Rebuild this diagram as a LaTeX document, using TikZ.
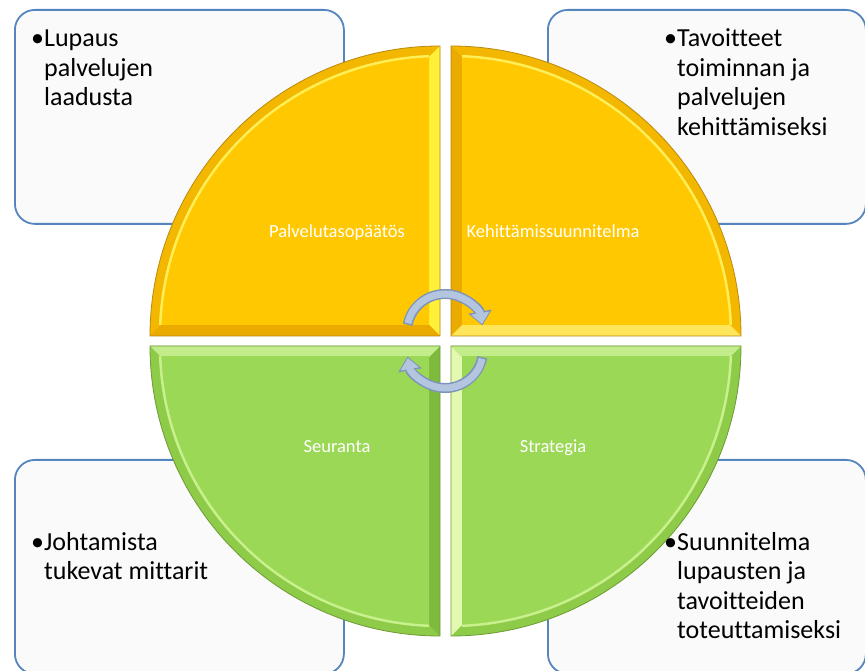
\documentclass[tikz,border=0pt]{standalone}
\usepackage{fontspec}
\setmainfont{Carlito}[Ligatures=NoCommon]
\usetikzlibrary{arrows.meta}

\definecolor{yelBase}{HTML}{FFC800}
\definecolor{yelRim}{HTML}{F3B700}
\definecolor{yelLight}{HTML}{FFF03A}
\definecolor{yelMid}{HTML}{FFE55A}
\definecolor{yelDark}{HTML}{EBAA00}
\definecolor{yelShine}{HTML}{FFEE55}
\definecolor{yelEdge}{HTML}{B98A10}
\definecolor{grnBase}{HTML}{9BD856}
\definecolor{grnRim}{HTML}{8DCB48}
\definecolor{grnLight}{HTML}{E4F9B0}
\definecolor{grnMid}{HTML}{C3EC8A}
\definecolor{grnDark}{HTML}{7FB93E}
\definecolor{grnShine}{HTML}{C8F08C}
\definecolor{grnEdge}{HTML}{6E9B36}
\definecolor{boxLine}{HTML}{5585BF}
\definecolor{arrFill}{HTML}{B3C5DF}
\definecolor{arrLine}{HTML}{7D95BA}

\newcommand{\bulletlines}[1]{\begin{tabular}[t]{@{}l@{}l@{}}\makebox[13pt][l]{\textbullet}#1\end{tabular}}

\begin{document}
\begin{tikzpicture}[x=1pt,y=1pt,
    infobox/.style={draw=boxLine,line width=1.8pt,fill=white!98!black,rounded corners=20pt,
                    anchor=north west,minimum height=214pt,inner sep=0pt},
    bullettext/.style={font=\fontsize{26}{29.5}\selectfont,anchor=base west,inner sep=0pt},
    quadlabel/.style={font=\fontsize{18.5}{22}\selectfont,text=white,anchor=base,inner sep=0pt},
    turnline/.style={line width=10pt,arrLine,-{Triangle[length=14pt,width=23pt]}},
    turnfill/.style={line width=7pt,arrFill,shorten >=1.5pt,shorten <=1.5pt,
                     -{Triangle[length=11pt,width=18pt]}}]
    \useasboundingbox (0,0) rectangle (865,670);
    \clip (0,0) rectangle (865,670);
    \fill[white] (0,0) rectangle (865,670);

    \node[infobox,minimum width=329pt] (lupausBox) at (14,661) {};
    \node[infobox,minimum width=318pt] (tavoiteBox) at (547,661) {};
    \node[infobox,minimum width=329pt] (mittariBox) at (14,211) {};
    \node[infobox,minimum width=318pt] (suunnitelmaBox) at (547,211) {};

    \begin{scope}[shift={(440,334)},xscale=-1]
        \fill[yelRim] (0,0) -- (290,0) arc[start angle=0,end angle=90,radius=290] -- cycle;
        \begin{scope}
            \clip (0,0) -- (290,0) arc[start angle=0,end angle=90,radius=290] -- cycle;
            \fill[yelLight] (0,0) -- (11,11) -- (11,279) -- (0,290) -- cycle;
            \fill[yelDark] (0,0) -- (11,11) -- (279,11) -- (290,0) -- cycle;
            \clip (11,11) rectangle (290,290);
            \fill[yelBase] (0,0) circle[radius=279];
            \draw[yelShine,line width=2.5pt] (0,0) circle[radius=280];
        \end{scope}
        \draw[yelEdge,line width=0.8pt] (0,0) -- (290,0) arc[start angle=0,end angle=90,radius=290] -- cycle;
    \end{scope}

    \begin{scope}[shift={(451,334)}]
        \fill[yelRim] (0,0) -- (290,0) arc[start angle=0,end angle=90,radius=290] -- cycle;
        \begin{scope}
            \clip (0,0) -- (290,0) arc[start angle=0,end angle=90,radius=290] -- cycle;
            \fill[yelDark] (0,0) -- (11,11) -- (11,279) -- (0,290) -- cycle;
            \fill[yelMid] (0,0) -- (11,11) -- (279,11) -- (290,0) -- cycle;
            \clip (11,11) rectangle (290,290);
            \fill[yelBase] (0,0) circle[radius=279];
            \draw[yelShine,line width=2.5pt] (0,0) circle[radius=280];
        \end{scope}
        \draw[yelEdge,line width=0.8pt] (0,0) -- (290,0) arc[start angle=0,end angle=90,radius=290] -- cycle;
    \end{scope}

    \begin{scope}[shift={(440,324)},scale=-1]
        \fill[grnRim] (0,0) -- (290,0) arc[start angle=0,end angle=90,radius=290] -- cycle;
        \begin{scope}
            \clip (0,0) -- (290,0) arc[start angle=0,end angle=90,radius=290] -- cycle;
            \fill[grnDark] (0,0) -- (11,11) -- (11,279) -- (0,290) -- cycle;
            \fill[grnMid] (0,0) -- (11,11) -- (279,11) -- (290,0) -- cycle;
            \clip (11,11) rectangle (290,290);
            \fill[grnBase] (0,0) circle[radius=279];
            \draw[grnShine,line width=2.5pt] (0,0) circle[radius=280];
        \end{scope}
        \draw[grnEdge,line width=0.8pt] (0,0) -- (290,0) arc[start angle=0,end angle=90,radius=290] -- cycle;
    \end{scope}

    \begin{scope}[shift={(451,324)},yscale=-1]
        \fill[grnRim] (0,0) -- (290,0) arc[start angle=0,end angle=90,radius=290] -- cycle;
        \begin{scope}
            \clip (0,0) -- (290,0) arc[start angle=0,end angle=90,radius=290] -- cycle;
            \fill[grnLight] (0,0) -- (11,11) -- (11,279) -- (0,290) -- cycle;
            \fill[grnMid] (0,0) -- (11,11) -- (279,11) -- (290,0) -- cycle;
            \clip (11,11) rectangle (290,290);
            \fill[grnBase] (0,0) circle[radius=279];
            \draw[grnShine,line width=2.5pt] (0,0) circle[radius=280];
        \end{scope}
        \draw[grnEdge,line width=0.8pt] (0,0) -- (290,0) arc[start angle=0,end angle=90,radius=290] -- cycle;
    \end{scope}

    \node[quadlabel] (palvelutaso) at (337,432) {Palvelutasopäätös};
    \node[quadlabel] (kehittaminen) at (553,432) {Kehittämissuunnitelma};
    \node[quadlabel] (seuranta) at (337,217) {Seuranta};
    \node[quadlabel] (strategia) at (553,217) {Strategia};

    \coordinate (upperTurn) at (445,338);
    \coordinate (lowerTurn) at (445,320);
    \draw[turnline] ([shift={(169:38)}]upperTurn) arc[start angle=169,end angle=10,radius=38];
    \draw[turnfill] ([shift={(169:38)}]upperTurn) arc[start angle=169,end angle=10,radius=38];
    \draw[turnline] ([shift={(-11:38)}]lowerTurn) arc[start angle=-11,end angle=-170,radius=38];
    \draw[turnfill] ([shift={(-11:38)}]lowerTurn) arc[start angle=-11,end angle=-170,radius=38];

    \node[bullettext] (lupausText) at ([shift={(17,-38)}]lupausBox.north west)
        {\bulletlines{&Lupaus\\&palvelujen\\&laadusta}};
    \node[bullettext] (tavoiteText) at ([shift={(117,-38)}]tavoiteBox.north west)
        {\bulletlines{&Tavoitteet\\&toiminnan ja\\&palvelujen\\&kehittämiseksi}};
    \node[bullettext] (mittariText) at ([shift={(17,-91)}]mittariBox.north west)
        {\bulletlines{&Johtamista\\&tukevat mittarit}};
    \node[bullettext] (suunnitelmaText) at ([shift={(117,-91)}]suunnitelmaBox.north west)
        {\bulletlines{&Suunnitelma\\&lupausten ja\\&tavoitteiden\\&toteuttamiseksi}};
\end{tikzpicture}
\end{document}
